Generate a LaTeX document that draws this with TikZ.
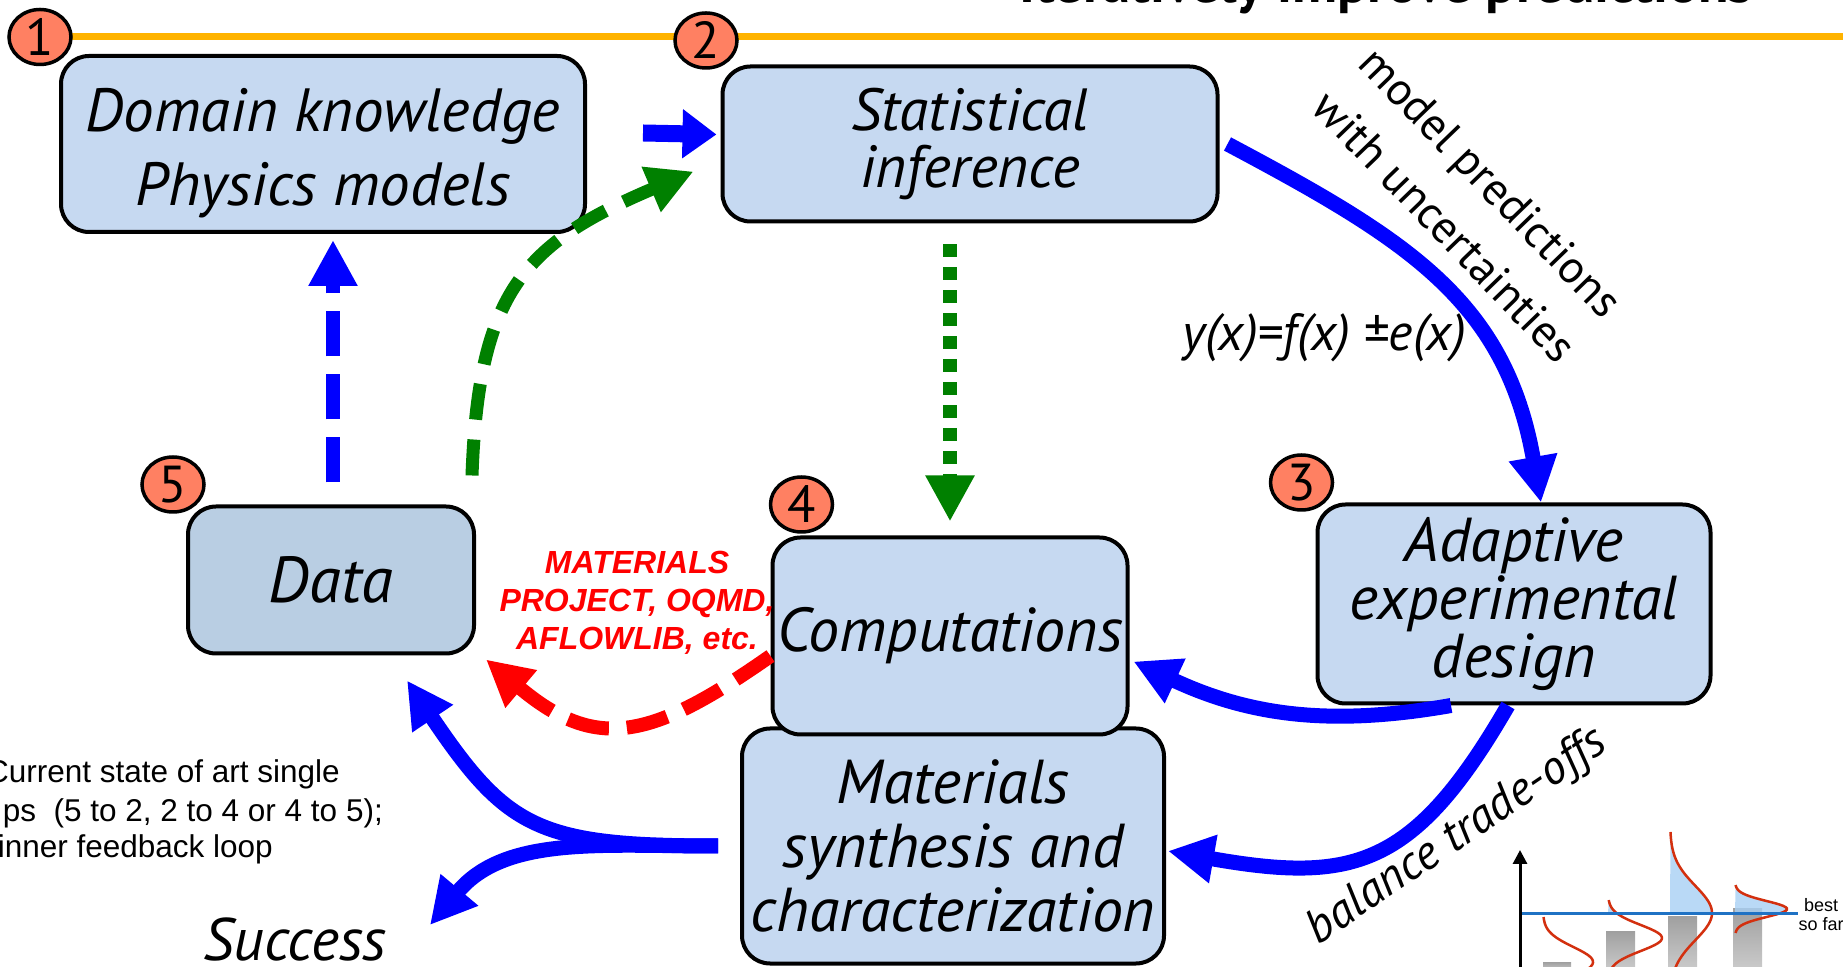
\documentclass[tikz,border=0pt]{standalone}
\usepackage{fontspec}
\setmainfont{PT Sans}
\newfontfamily\arialfont{Liberation Sans}
\usetikzlibrary{shapes,arrows.meta,positioning,calc,backgrounds}
\definecolor{boxblue}{HTML}{C6D9F1}
\definecolor{datablue}{HTML}{B9CEE3}
\definecolor{numred}{HTML}{FF8062}
\definecolor{lineorange}{HTML}{FFB300}
\definecolor{arrblue}{HTML}{0000FF}
\definecolor{arrgreen}{HTML}{008000}
\definecolor{arrred}{HTML}{FF0000}
\definecolor{gaussred}{HTML}{D3300F}
\definecolor{bestblue}{HTML}{1F72C4}
\definecolor{tailblue}{HTML}{A8D0F4}
\tikzset{
    block/.style={rectangle, draw, fill=boxblue, align=center, rounded corners=28pt, line width=4pt, inner sep=0pt},
    datablock/.style={block, fill=datablue},
    numcirc/.style={ellipse, draw, fill=numred, line width=3.5pt, minimum width=62pt, minimum height=55pt, inner sep=0pt, font=\fontsize{52}{52}\selectfont},
    line/.style={draw=arrblue, line width=15pt, -{Triangle[length=46pt,width=46pt]}},
    bluedash/.style={line, line width=14pt, dash pattern=on 45pt off 18pt},
    greendash/.style={line, draw=arrgreen, line width=13pt, dash pattern=on 36pt off 20pt},
    greendot/.style={line, draw=arrgreen, line width=14pt, dash pattern=on 13pt off 10pt},
    reddash/.style={line, draw=arrred, line width=14pt, dash pattern=on 42pt off 18pt},
    redlabel/.style={align=center, text=arrred, font=\arialfont\bfseries\itshape\fontsize{32}{38}\selectfont},
    note/.style={anchor=base east, inner sep=0pt, font=\arialfont\fontsize{31.5}{36}\selectfont},
    gauss/.style={draw=gaussred, line width=2.5pt}
}

\begin{document}
\begin{tikzpicture}[x=1pt, y=1pt]
    \useasboundingbox (0,0) rectangle (1843,966);
    \clip (0,0) rectangle (1843,966);

    % boxes
    \node [block, minimum width=524pt, minimum height=176pt, font=\itshape\fontsize{61}{74}\selectfont] (dom) at (323,822) {\rule{0pt}{62pt}Domain knowledge\\Physics models};
    \node [block, right of=dom, node distance=647pt, minimum width=495pt, minimum height=155pt, font=\itshape\fontsize{59.5}{57}\selectfont] (stat) {Statistical\\inference};
    \node [block, below of=stat, node distance=702pt, xshift=-17pt, minimum width=422pt, minimum height=235pt, font=\itshape\fontsize{62}{64}\selectfont] (synth) {Materials\\synthesis and\\characterization};
    \node [block, below of=stat, node distance=492pt, xshift=-20pt, minimum width=355pt, minimum height=197pt, font=\itshape\fontsize{62}{60}\selectfont] (comp) {Computations};
    \node [block, right of=comp, node distance=564pt, yshift=32pt, minimum width=393pt, minimum height=199pt, font=\itshape\fontsize{62}{58}\selectfont] (adapt) {Adaptive\\experimental\\design};
    \node [datablock, below of=dom, node distance=436pt, xshift=8pt, minimum width=286pt, minimum height=147pt, font=\itshape\fontsize{65}{60}\selectfont] (data) {Data};

    % step numbers
    \node [numcirc] (c1) at ([shift={(-19,17)}]dom.north west) {1};
    \node [numcirc] (c2) at ([shift={(-14.5,24)}]stat.north west) {2};
    \node [numcirc] (c3) at ([shift={(-14,20)}]adapt.north west) {3};
    \node [numcirc] (c4) at ([shift={(31,31)}]comp.north west) {4};
    \node [numcirc] (c5) at ([shift={(-13,20)}]data.north west) {5};
    \begin{scope}[on background layer]
        \draw [lineorange, line width=7pt] (c1.center) -- (c1.center -| 1843,0);
    \end{scope}

    % labels
    \node [anchor=base, font=\bfseries\fontsize{56}{56}\selectfont] (title) at (1386,963) {Iteratively improve predictions};
    \node [rotate=-46, align=center, font=\fontsize{46}{64}\selectfont] (pred) at (1468,762) {model predictions\\with uncertainties};
    \node [font=\itshape\fontsize{52}{52}\selectfont] (fx) at (1324,628) {y(x)=f(x) ±e(x)};
    \node [rotate=34, font=\itshape\fontsize{48}{48}\selectfont] (trade) at (1457,129) {balance trade-offs};
    \node [redlabel] (mp) at (637,363) {MATERIALS\\PROJECT, OQMD,\\AFLOWLIB, etc.};
    \node [note] (note1) at (340,183) {Current state of art single};
    \node [note] (note2) at (383,144) {ps\ \ (5 to 2, 2 to 4 or 4 to 5);};
    \node [note] (note3) at (273,108) {inner feedback loop};
    \node [anchor=base, inner sep=0pt, font=\itshape\fontsize{60}{60}\selectfont] (success) at (295,6) {Success};

    % arrows
    \path [line, line width=17pt, -{Triangle[length=34pt,width=47pt]}] ([xshift=56,yshift=11]dom.east) -- ([xshift=-4,yshift=9.5]stat.west);
    \path [line] ([xshift=8]stat.east) to [out=-28, in=100, looseness=1.1] ([xshift=27]adapt.north);
    \path [greendot] ([xshift=-20,yshift=-21]stat.south) -- ([yshift=14]comp.north);
    \path [bluedash] ([xshift=2,yshift=22]data.north) -- ([xshift=10,yshift=-6]dom.south);
    \path [greendash] ([xshift=-4,yshift=29]data.north east) to [out=88, in=203, looseness=1.25] ([xshift=-27,yshift=-27.5]stat.west);
    \path [reddash] ([yshift=-20]comp.west) to [out=215, in=-40, looseness=1.3] ([xshift=10,yshift=-4]data.south east);
    \path [line] ([xshift=-63]adapt.south) to [out=190, in=-25] ([xshift=4,yshift=-25.5]comp.east);
    \path [line] ([xshift=-6]adapt.south) to [out=-120, in=-10, looseness=1.3] ([xshift=2,yshift=-5]synth.east);
    \path [line] ([xshift=-22]synth.west) to [out=180, in=-56, looseness=1.3] ([xshift=-69,yshift=-25]data.south east);
    \path [line] ([xshift=-22]synth.west) to [out=180, in=50] ([xshift=43,yshift=-8]success.north east);

    % best so far sketch
    \shade [top color=gray!75, bottom color=gray!40] (1543,-5) rectangle (1571,4);
    \shade [top color=gray!75, bottom color=gray!40] (1606,-5) rectangle (1635,35);
    \shade [top color=gray!75, bottom color=gray!40] (1668,-5) rectangle (1697,50);
    \shade [top color=gray!75, bottom color=gray!40] (1733,-5) rectangle (1762,58);
    \fill [tailblue, opacity=0.8] (1608,53) -- plot [domain=53:66, samples=20] ({1608+54*exp(-0.5*((\x-28)/13)^2)}, {\x}) -- cycle;
    \fill [tailblue, opacity=0.8] (1670,53) -- plot [domain=53:134, samples=40] ({1670+42*exp(-0.5*((\x-53)/27)^2)}, {\x}) -- cycle;
    \fill [tailblue, opacity=0.8] (1735,53) -- plot [domain=53:81, samples=30] ({1735+52*exp(-0.5*((\x-57)/8)^2)}, {\x}) -- cycle;
    \draw [gauss] plot [domain=-10:49, samples=40] ({1543+50*exp(-0.5*((\x-4)/15)^2)}, {\x});
    \draw [gauss] plot [domain=-10:66, samples=50] ({1608+54*exp(-0.5*((\x-28)/13)^2)}, {\x});
    \draw [gauss] plot [domain=-10:134, samples=60] ({1670+42*exp(-0.5*((\x-53)/27)^2)}, {\x});
    \draw [gauss] plot [domain=33:81, samples=40] ({1735+52*exp(-0.5*((\x-57)/8)^2)}, {\x});
    \draw [bestblue, line width=3pt] (1520,53) -- (1798,53);
    \draw [line width=3pt, -{Triangle[length=14pt,width=14pt]}] (1520,-5) -- (1520,116);
    \node [align=center, inner sep=0pt, font=\arialfont\fontsize{18}{19}\selectfont] (best) at (1821,51) {best\\so far};
\end{tikzpicture}
\end{document}
